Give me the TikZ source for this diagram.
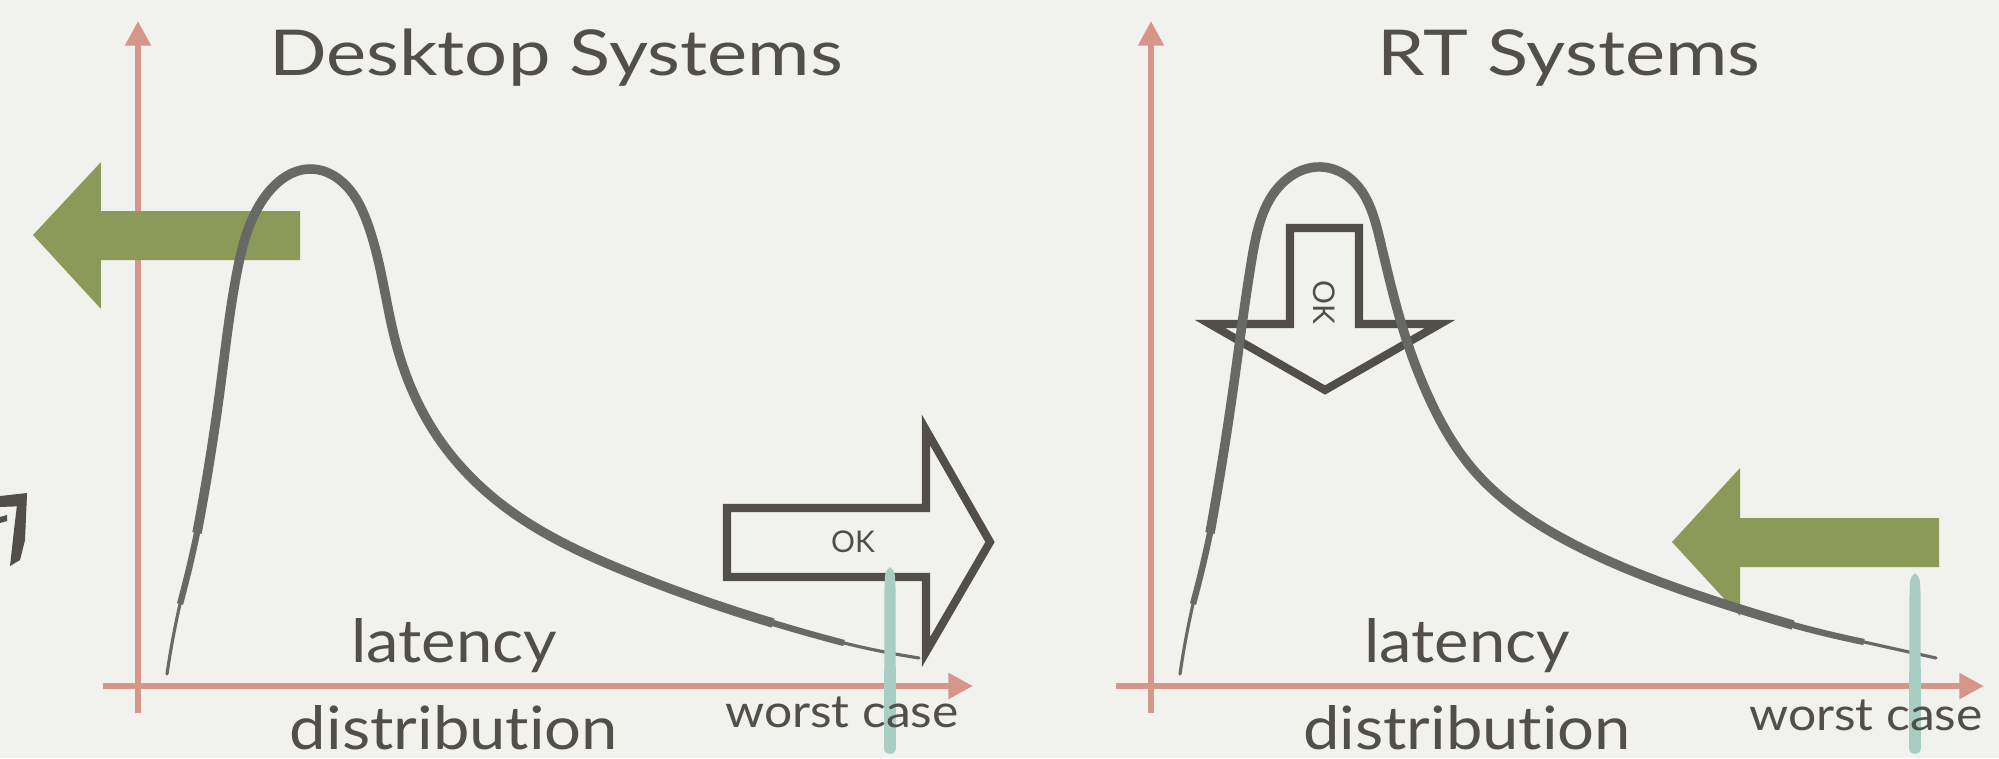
\documentclass[tikz,border=0pt]{standalone}
\usepackage{fontspec}
\setmainfont{Lato}[Ligatures=NoCommon]
\newfontfamily\titlefont{Lato}[FakeStretch=1.2, Ligatures=NoCommon]
\newfontfamily\widefont{Lato}[FakeStretch=1.09, Ligatures=NoCommon]
\usetikzlibrary{arrows.meta,hobby}
\definecolor{paper}{RGB}{241,241,237}
\definecolor{salmon}{RGB}{214,150,138}
\definecolor{ink}{RGB}{82,78,73}
\definecolor{pen}{RGB}{104,104,102}
\definecolor{olive}{RGB}{139,154,89}
\definecolor{mint}{RGB}{167,206,195}

\begin{document}
\begin{tikzpicture}[
  axis/.style={draw=salmon, line width=1.7pt, -{Triangle[length=7pt,width=7pt]}},
  curvethin/.style={draw=pen, line width=0.9pt, line cap=round, use Hobby shortcut},
  curvemid/.style={draw=pen, line width=1.8pt, line cap=butt, use Hobby shortcut},
  curve/.style={draw=pen, line width=2.7pt, line cap=butt, use Hobby shortcut},
  push/.style={fill=olive},
  okarrow/.style={draw=ink, line width=2.3pt, line join=miter},
  wcstroke/.style={fill=mint},
  title/.style={text=ink, font=\titlefont\fontsize{18}{21}\selectfont, anchor=base},
  caption/.style={text=ink, font=\widefont\fontsize{17}{20}\selectfont, anchor=base, inner sep=0pt},
  wcase/.style={text=ink, font=\widefont\fontsize{13}{15}\selectfont, anchor=base, inner sep=0pt},
  oklabel/.style={text=ink, font=\fontsize{8.5}{10}\selectfont, inner sep=0pt}
]

%% Paper
\fill[paper] (0,0) rectangle (19.99,7.58);
\useasboundingbox (0,0) rectangle (19.99,7.58);

%% Brush mark at the left edge
\fill[ink] (0,2.62) -- (0.27,2.65) -- (0.26,2.52) -- (0,2.51) -- cycle;
\fill[ink] (0.17,2.53) -- (0.27,2.64) -- (0.25,2.18) -- (0.20,1.98)
  -- (0.10,1.92) -- (0.14,2.28) -- cycle;
\fill[ink] (0,2.41) -- (0.07,2.43) -- (0.07,2.37) -- (0,2.35) -- cycle;

%% Axes of both panels
\foreach \p/\ox/\xa/\xb in {L/1.38/1.03/9.73, R/11.51/11.16/19.84}{
  \coordinate (ybot\p) at (\ox,0.45);
  \coordinate (ytop\p) at (\ox,7.37);
  \coordinate (xleft\p) at (\xa,0.72);
  \coordinate (xright\p) at (\xb,0.72);
  \draw[axis] (ybot\p) -- (ytop\p);
  \draw[axis] (xleft\p) -- (xright\p);
}

%% Titles
\node[title] (titleL) at (5.56,6.83) {Desktop Systems};
\node[title] (titleR) at (15.69,6.83) {RT Systems};

%% Green arrows
\fill[push] (0.33,5.23) -- (1.01,5.96) -- (1.01,5.47) -- (3.00,5.47)
  -- (3.00,4.98) -- (1.01,4.98) -- (1.01,4.49) -- cycle;
\fill[push] (16.72,2.16) -- (17.40,2.90) -- (17.40,2.40) -- (19.39,2.40)
  -- (19.39,1.91) -- (17.40,1.91) -- (17.40,1.42) -- cycle;

%% Outline arrows
\draw[okarrow] (7.27,2.50) -- (9.26,2.50) -- (9.26,3.28) -- (9.90,2.16)
  -- (9.26,1.06) -- (9.26,1.81) -- (7.27,1.81) -- cycle;
\node[oklabel] (okL) at (8.53,2.16) {OK};
\draw[okarrow] (12.90,5.30) -- (13.59,5.30) -- (13.59,4.34) -- (14.40,4.34)
  -- (13.25,3.68) -- (12.10,4.34) -- (12.90,4.34) -- cycle;
\node[oklabel, rotate=-90] (okR) at (13.24,4.56) {OK};

%% Latency curves, tapered by three strokes
\draw[curvethin] (1.67,0.84) .. (1.80,1.54) .. (1.97,2.25) .. (2.20,3.68)
  .. (2.37,4.86) .. (2.67,5.64) .. (3.10,5.89) .. (3.53,5.64) .. (3.67,5.36)
  .. (3.97,4.11) .. (4.37,3.22) .. (5.05,2.51) .. (6.30,1.85) .. (7.73,1.35)
  .. (8.44,1.15) .. (9.19,1.00);
\draw[curvemid] (1.80,1.54) .. (1.97,2.25) .. (2.20,3.68)
  .. (2.37,4.86) .. (2.67,5.64) .. (3.10,5.89) .. (3.53,5.64) .. (3.67,5.36)
  .. (3.97,4.11) .. (4.37,3.22) .. (5.05,2.51) .. (6.30,1.85) .. (7.73,1.35)
  .. (8.44,1.15);
\draw[curve] (1.97,2.25) .. (2.20,3.68)
  .. (2.37,4.86) .. (2.67,5.64) .. (3.10,5.89) .. (3.53,5.64) .. (3.67,5.36)
  .. (3.97,4.11) .. (4.37,3.22) .. (5.05,2.51) .. (6.30,1.85) .. (7.73,1.35);

\draw[curvethin] (11.80,0.84) .. (11.93,1.54) .. (12.10,2.25) .. (12.33,3.68)
  .. (12.52,5.00) .. (12.87,5.79) .. (13.17,5.91) .. (13.47,5.82) .. (13.80,5.18)
  .. (14.00,4.39) .. (14.30,3.58) .. (14.71,2.91) .. (15.79,2.11) .. (17.21,1.55)
  .. (17.93,1.33) .. (18.64,1.16) .. (19.36,1.00);
\draw[curvemid] (11.93,1.54) .. (12.10,2.25) .. (12.33,3.68)
  .. (12.52,5.00) .. (12.87,5.79) .. (13.17,5.91) .. (13.47,5.82) .. (13.80,5.18)
  .. (14.00,4.39) .. (14.30,3.58) .. (14.71,2.91) .. (15.79,2.11) .. (17.21,1.55)
  .. (17.93,1.33) .. (18.64,1.16);
\draw[curve] (12.10,2.25) .. (12.33,3.68)
  .. (12.52,5.00) .. (12.87,5.79) .. (13.17,5.91) .. (13.47,5.82) .. (13.80,5.18)
  .. (14.00,4.39) .. (14.30,3.58) .. (14.71,2.91) .. (15.79,2.11) .. (17.21,1.55)
  .. (17.93,1.33);

%% Worst case marks
\foreach \p/\x/\t in {L/8.90/1.91, R/19.15/1.85}{
  \fill[wcstroke] (\x,\t) .. controls (\x-0.05,\t-0.05) .. (\x-0.055,\t-0.2)
    -- (\x-0.06,0.10) .. controls (\x-0.06,0.02) and (\x+0.06,0.02) .. (\x+0.06,0.10)
    -- (\x+0.055,\t-0.2) .. controls (\x+0.05,\t-0.05) .. (\x,\t) -- cycle;
}

%% Axis labels
\node[caption] (latL) at (4.54,0.96) {latency};
\node[caption] (distL) at (4.54,0.09) {distribution};
\node[caption] (latR) at (14.67,0.96) {latency};
\node[caption] (distR) at (14.67,0.09) {distribution};
\node[wcase] (worstL) at (8.42,0.31) {worst case};
\node[wcase] (worstR) at (18.66,0.28) {worst case};

\end{tikzpicture}
\end{document}
